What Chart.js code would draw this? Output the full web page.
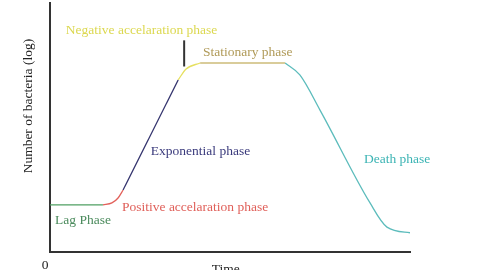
<!DOCTYPE html>
<html>
<head>
<meta charset="utf-8">
<script src="https://cdn.jsdelivr.net/npm/chart.js@4/dist/chart.umd.min.js"></script>
<style>
html,body{margin:0;padding:0;background:#fff;}
#wrap{width:485px;height:270px;position:relative;}
</style>
</head>
<body>
<div id="wrap"><canvas id="c" width="485" height="270"></canvas></div>
<script>
// Growth curve phases (x = time units, y = log number of bacteria)
const lagPhase = [{x:0,y:18.9},{x:14.7,y:18.9}];
const positiveAccel = [{x:14.7,y:18.9},{x:17.2,y:19.7},{x:18.9,y:21.7},{x:20.3,y:24.9}];
const exponential = [{x:20.3,y:24.9},{x:35.6,y:69.1}];
const negativeAccel = [{x:35.6,y:69.1},{x:37.8,y:73.5},{x:41.7,y:75.9}];
const stationary = [{x:41.7,y:75.9},{x:65.3,y:75.9}];
const death = [{x:65.3,y:75.9},{x:69.4,y:71.1},{x:75,y:57.0},{x:88.9,y:19.7},{x:93.6,y:10.0},{x:100.6,y:7.6}];

const phaseNames = ["Lag Phase","Positive accelaration phase","Exponential phase","Negative accelaration phase","Stationary phase","Death phase"];
const phaseColors = ["#4f9f62","#e2605a","#34346e","#e6e060","#cdbb78","#5cbcbc"];
const labelColors = ["#4a8a5c","#e0605a","#3a3a7c","#dcd850","#b09a58","#3cb4b4"];
// label anchor (left edge, vertical centre) in data units
const labelX = [1.4, 20, 28, 4.4, 42.5, 87.2];
const labelY = [12.8, 17.7, 40.2, 88.8, 80, 37.3];
const xTickLabel = "0";
const xTitle = "Time";
const yTitle = "Number of bacteria (log)";

const series = [lagPhase, positiveAccel, exponential, negativeAccel, stationary, death];

const annot = {
  id:'annot',
  afterDatasetsDraw(chart){
    const ctx = chart.ctx, xs = chart.scales.x, ys = chart.scales.y;
    ctx.save();
    ctx.font = '13.5px "Liberation Serif", "Times New Roman", serif';
    ctx.textBaseline = 'middle';
    ctx.textAlign = 'left';
    for(let i=0;i<phaseNames.length;i++){
      ctx.fillStyle = labelColors[i];
      ctx.fillText(phaseNames[i], xs.getPixelForValue(labelX[i]), ys.getPixelForValue(labelY[i]));
    }
    // marker line at the exponential / negative acceleration boundary
    ctx.strokeStyle = '#333';
    ctx.lineWidth = 2;
    ctx.beginPath();
    const mx = xs.getPixelForValue(negativeAccel[0].x) + 6;
    ctx.moveTo(mx, ys.getPixelForValue(85));
    ctx.lineTo(mx, ys.getPixelForValue(74.5));
    ctx.stroke();
    // axis texts
    ctx.fillStyle = '#222';
    ctx.textAlign = 'center';
    ctx.fillText(xTickLabel, xs.getPixelForValue(0) - 5, chart.chartArea.bottom + 13);
    ctx.fillText(xTitle, xs.getPixelForValue(48.8), chart.chartArea.bottom + 17);
    ctx.translate(28, ys.getPixelForValue(58.6));
    ctx.rotate(-Math.PI/2);
    ctx.fillText(yTitle, 0, 0);
    ctx.restore();
  }
};

new Chart(document.getElementById('c'), {
  type:'line',
  data:{
    datasets: series.map((d,i)=>({
      label: phaseNames[i],
      data: d,
      borderColor: phaseColors[i],
      borderWidth: 1.3,
      pointRadius: 0,
      fill: false,
      cubicInterpolationMode: 'monotone'
    }))
  },
  options:{
    responsive:false,
    animation:false,
    events:[],
    layout:{padding:{left:50,right:75,top:3,bottom:18}},
    plugins:{legend:{display:false},tooltip:{enabled:false}},
    scales:{
      x:{type:'linear',min:0,max:100,
         ticks:{display:false},grid:{display:false,drawTicks:false},
         border:{display:true,color:'#333',width:2}},
      y:{type:'linear',min:0,max:100,
         ticks:{display:false},grid:{display:false,drawTicks:false},
         border:{display:true,color:'#333',width:2}}
    }
  },
  plugins:[annot]
});
</script>
</body>
</html>
